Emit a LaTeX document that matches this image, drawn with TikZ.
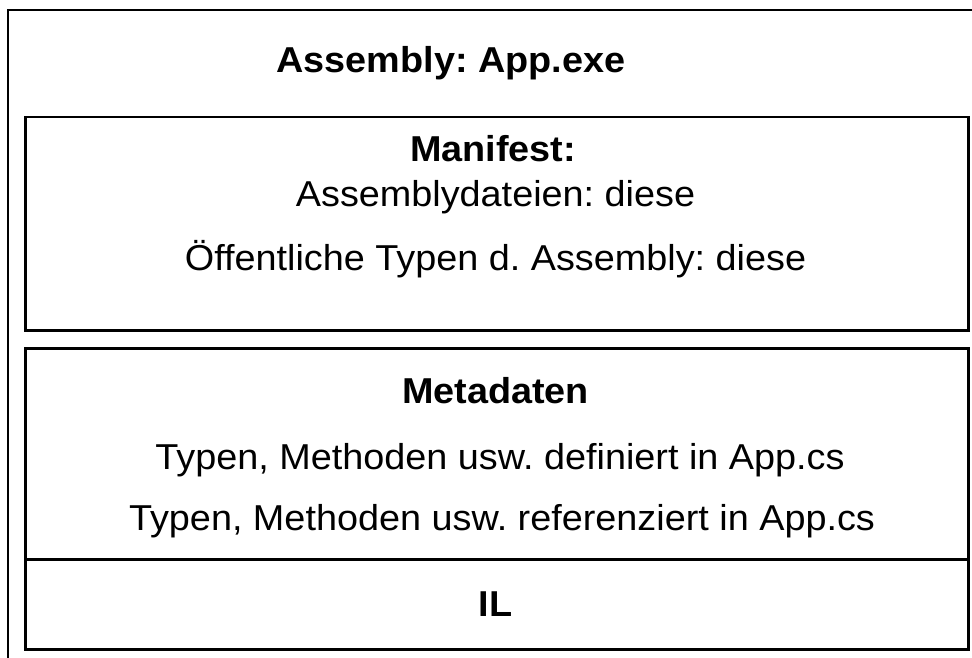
\documentclass[tikz,border=0pt]{standalone}
\usepackage{fontspec}
\setmainfont[FakeStretch=1.05]{Liberation Sans}
\frenchspacing
\begin{document}
\begin{tikzpicture}[x=1pt,y=-1pt,
  frame/.style={draw=black,line width=2.5pt},
  part/.style={frame,rectangle,inner sep=0pt,anchor=north west},
  label/.style={anchor=base,inner sep=0pt,font=\fontsize{36}{40}\selectfont},
  heading/.style={label,font=\fontsize{36}{40}\selectfont\bfseries}]
  \useasboundingbox (0,0) rectangle (972,658);
  \clip (0,0) rectangle (972,658);

  % outer assembly frame, running off the right and bottom edges
  \draw[frame] (8,690) -- (8,10) -- (1000,10);
  \node[heading] (title) at (451,73) {Assembly: App.exe};

  % manifest block
  \node[part,minimum width=943pt,minimum height=213pt] (manifest) at (24,116) {};
  \node[heading] (mhead) at (493,161) {Manifest:};
  \node[label] (mfiles) at (495.5,206) {Assemblydateien: diese};
  \node[label] (mtypes) at (495.5,270) {Öffentliche Typen d. Assembly: diese};

  % metadata block with the IL section below it
  \node[part,minimum width=943pt,minimum height=301pt] (meta) at (24,347) {};
  \draw[frame] (24,559.5) coordinate (ilL) -- (967,559.5) coordinate (ilR);
  \node[heading] (dhead) at (495.5,403) {Metadaten};
  \node[label] (ddef) at (500,469) {Typen, Methoden usw. definiert in App.cs};
  \node[label] (dref) at (502,530) {Typen, Methoden usw. referenziert in App.cs};
  \node[heading] (il) at (495.5,616) {IL};
\end{tikzpicture}
\end{document}
